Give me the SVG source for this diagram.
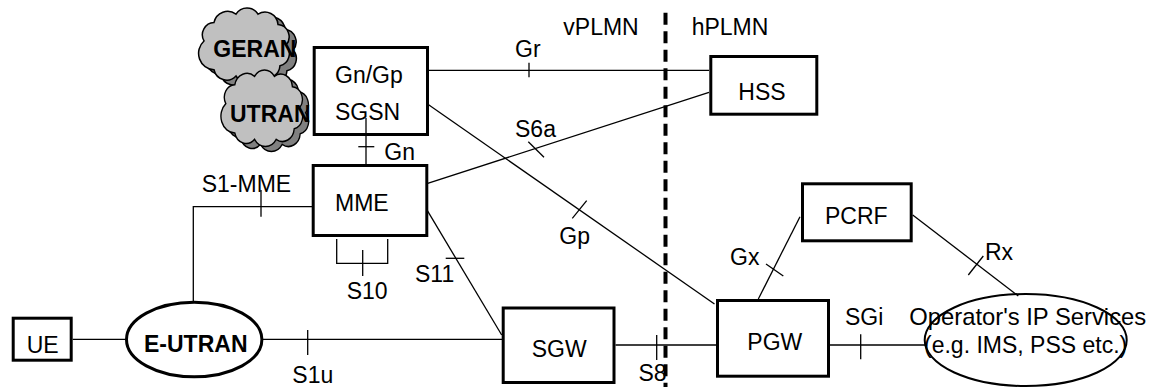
<svg xmlns="http://www.w3.org/2000/svg" width="1154" height="387" viewBox="0 0 1154 387">
<style>
text{font-family:"Liberation Sans",Arial,sans-serif;font-size:23px;fill:#000}
.b{font-weight:bold}
.box{fill:#fff;stroke:#000;stroke-width:3}
.ln{fill:none;stroke:#000;stroke-width:1.3}
.cl{fill:#c0c0c0;stroke:#000;stroke-width:1.5}
.cs{fill:#808080;stroke:#000;stroke-width:1.5}
</style>
<defs>
<path id="cloud" d="M12,32 a12,12 0 0 1 10,-18 a14,14 0 0 1 22,-8 a13,13 0 0 1 22,0 a13,13 0 0 1 20,10 a12,12 0 0 1 8,20 a12,12 0 0 1 -6,20 a13,13 0 0 1 -20,10 a14,14 0 0 1 -24,0 a13,13 0 0 1 -22,-6 a16,16 0 0 1 -10,-28 Z"/>
</defs>
<rect width="1154" height="387" fill="#fff"/>
<g id="geran">
<use href="#cloud" class="cs" transform="translate(199,13) scale(1.0,1.03)"/>
<use href="#cloud" class="cl" transform="translate(192,8) scale(1.0,1.03)"/>
<text class="b" x="213.3" y="56.7">GERAN</text>
</g>
<g id="utran">
<use href="#cloud" class="cs" transform="translate(221,75) scale(0.9,1.05)"/>
<use href="#cloud" class="cl" transform="translate(215,70) scale(0.9,1.05)"/>
<text class="b" x="230" y="121.7">UTRAN</text>
</g>
<g id="connectors">
<path class="ln" d="M72.7,339.3H126"/>
<path class="ln" d="M263,339.3H502"/>
<path class="ln" d="M307.7,330V355"/>
<path class="ln" d="M193.3,301V206.7H312"/>
<path class="ln" d="M261,190V216.7"/>
<path class="ln" d="M336.7,239V263.3H387.7V239"/>
<path class="ln" d="M362.7,250V276"/>
<path class="ln" d="M425,206.7L501.7,335"/>
<path class="ln" d="M445.7,258.3H464.3"/>
<path class="ln" d="M420.7,70.3H709"/>
<path class="ln" d="M529,62.7V77.3"/>
<path class="ln" d="M420.7,185.7L709,92.3"/>
<path class="ln" d="M528.3,141.7L544,157.3"/>
<path class="ln" d="M420.7,99.3L714.5,304"/>
<path class="ln" d="M572.3,218.3L586.7,200.7"/>
<path class="ln" d="M615.5,345H716"/>
<path class="ln" d="M656.7,335V360"/>
<path class="ln" d="M758.3,299L800,216.7"/>
<path class="ln" d="M766,264L783.3,276"/>
<path class="ln" d="M912.7,215L1018.3,296"/>
<path class="ln" d="M968.3,275L983.3,256"/>
<path class="ln" d="M830,345H925"/>
<path class="ln" d="M860.7,334.3V359.3"/>
<path d="M665.5,12.7V387" fill="none" stroke="#000" stroke-width="4" stroke-dasharray="12 6.5"/>
</g>
<g id="sgsn">
<rect class="box" x="314.2" y="47.5" width="113.3" height="87"/>
<text x="335" y="83">Gn/Gp</text>
<text x="335" y="120">SGSN</text>
</g>
<g id="gn">
<path class="ln" d="M366,118V164"/>
<path class="ln" d="M358.3,146.7H374.3"/>
<text x="384.3" y="160">Gn</text>
</g>
<g id="mme">
<rect class="box" x="313.2" y="165.5" width="113.6" height="70"/>
<text x="335" y="210.7">MME</text>
</g>
<g id="hss">
<rect class="box" x="710.8" y="56.5" width="106" height="57.7"/>
<text x="738.3" y="100">HSS</text>
</g>
<g id="ue">
<rect class="box" x="13.2" y="318.2" width="58" height="42"/>
<text x="26.7" y="352.7">UE</text>
</g>
<g id="eutran">
<ellipse cx="194.2" cy="339.5" rx="67.7" ry="37.3" fill="#fff" stroke="#000" stroke-width="3"/>
<text class="b" x="144" y="351.7">E-UTRAN</text>
</g>
<g id="sgw">
<rect class="box" x="503.2" y="308" width="110.8" height="74.5"/>
<text x="531.7" y="356.7">SGW</text>
</g>
<g id="pgw">
<rect class="box" x="717.5" y="300.5" width="111" height="75.7"/>
<text x="747.3" y="350">PGW</text>
</g>
<g id="pcrf">
<rect class="box" x="802.5" y="183.8" width="108.7" height="57"/>
<text x="825" y="224.3">PCRF</text>
</g>
<g id="ops">
<ellipse cx="1025.7" cy="340" rx="101" ry="46" fill="none" stroke="#000" stroke-width="2"/>
<text x="909.3" y="325" style="font-size:23.8px">Operator's IP Services</text>
<text x="924" y="353.3">(e.g. IMS, PSS etc.)</text>
</g>
<g id="labels">
<text x="563.3" y="35">vPLMN</text>
<text x="691.7" y="35">hPLMN</text>
<text x="515" y="57.3">Gr</text>
<text x="515" y="136.7">S6a</text>
<text x="559.3" y="244">Gp</text>
<text x="201.7" y="191.7">S1-MME</text>
<text x="346.7" y="299.3">S10</text>
<text x="415" y="281.7">S11</text>
<text x="292.3" y="382.7">S1u</text>
<text x="638.5" y="381">S8</text>
<text x="730" y="265">Gx</text>
<text x="985" y="260">Rx</text>
<text x="845" y="325">SGi</text>
</g>
</svg>
